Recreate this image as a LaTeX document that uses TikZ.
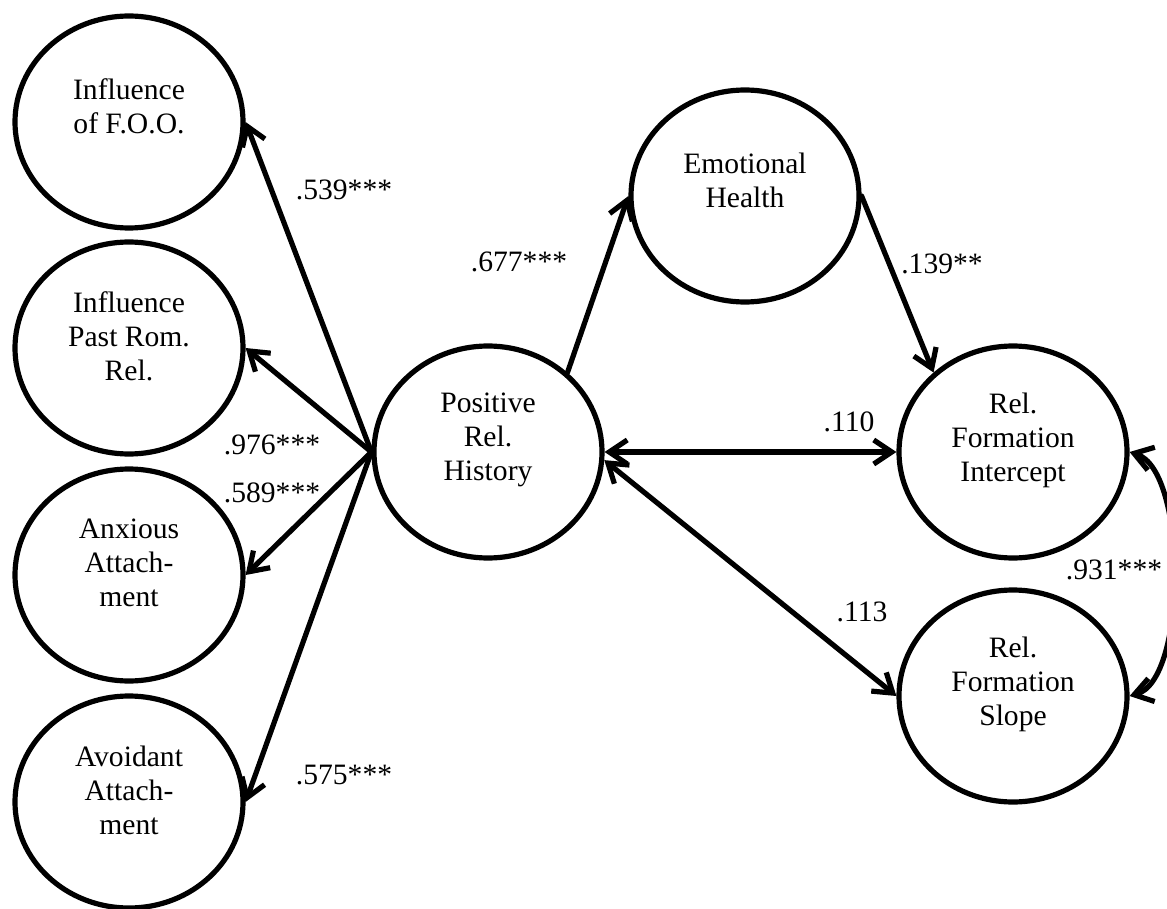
\documentclass[tikz,border=0pt]{standalone}
\usepackage{fontspec}
\setmainfont{Liberation Serif}
\usetikzlibrary{shapes.geometric,arrows.meta,positioning}
\tikzset{
  latent/.style={ellipse, draw, line width=2.6pt, minimum width=114pt, minimum height=106pt, inner sep=0pt},
  lbl/.style={align=center, font=\fontsize{14.8}{17}\selectfont},
  coef/.style={font=\fontsize{14.8}{17}\selectfont, inner sep=0pt},
  regpath/.style={line width=2.6pt, line cap=round, -{Straight Barb[length=9pt,width=12pt]}},
  covpath/.style={line width=2.6pt, line cap=round, {Straight Barb[length=9pt,width=12pt]}-{Straight Barb[length=9pt,width=12pt]}},
}
\begin{document}
\begin{tikzpicture}[x=0.5pt,y=-0.5pt]
  \useasboundingbox (0,0) rectangle (1167,909);
  % Indicators on the left
  \node[latent, label={[lbl, yshift=8pt]center:Influence\\of F.O.O.}] (foo) at (129,122) {};
  \node[latent, label={[lbl, yshift=6pt]center:Influence\\Past Rom.\\Rel.}] (prr) at (129,348) {};
  \node[latent, label={[lbl, yshift=6pt]center:Anxious\\Attach-\\ment}] (anx) at (129,575) {};
  \node[latent, label={[lbl, yshift=6pt]center:Avoidant\\Attach-\\ment}] (avo) at (129,802) {};
  % Central factor and outcomes
  \node[latent, label={[lbl, yshift=6pt]center:Positive\\Rel.\\History}] (prh) at (488,452) {};
  \node[latent, label={[lbl, yshift=8pt]center:Emotional\\Health}] (emo) at (745,196) {};
  \node[latent, label={[lbl, yshift=6pt]center:Rel.\\Formation\\Intercept}] (rfi) at (1013,452) {};
  \node[latent, label={[lbl, yshift=6pt]center:Rel.\\Formation\\Slope}] (rfs) at (1013,696) {};
  % Loadings
  \draw[regpath] (prh.west) -- (foo.east);
  \draw[regpath] (prh.west) -- (prr.east);
  \draw[regpath] (prh.west) -- (anx.east);
  \draw[regpath] (prh.west) -- (avo.east);
  % Structural paths
  \draw[regpath] (prh.45) -- (emo.west);
  \draw[regpath] (emo.east) -- (rfi.135);
  \draw[covpath] (prh.east) -- (rfi.west);
  \draw[covpath] (prh.-4) -- (rfs.west);
  \draw[covpath] (rfi.east) .. controls +(58,18) and +(58,-16) .. (rfs.east);
  % Coefficients
  \node[coef] (c539) at (344,190) {.539***};
  \node[coef] (c976) at (272,445) {.976***};
  \node[coef] (c589) at (272,493) {.589***};
  \node[coef] (c575) at (344,775) {.575***};
  \node[coef] (c677) at (519,262) {.677***};
  \node[coef] (c139) at (942,264) {.139**};
  \node[coef] (c110) at (849,422) {.110};
  \node[coef] (c113) at (862,612) {.113};
  \node[coef] (c931) at (1114,570) {.931***};
\end{tikzpicture}
\end{document}
